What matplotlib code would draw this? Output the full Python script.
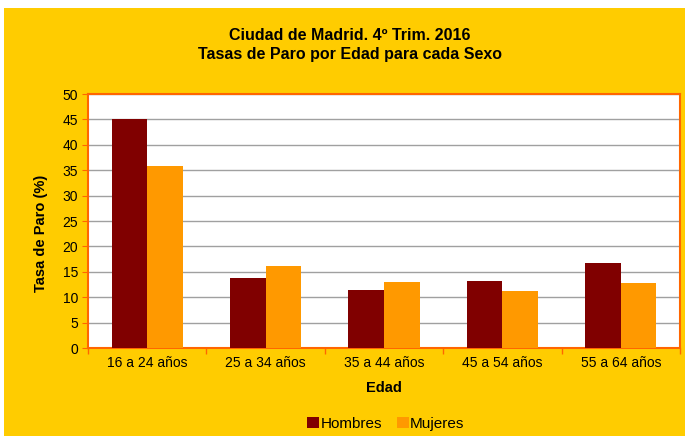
import matplotlib.pyplot as plt
import matplotlib.patches as patches
import numpy as np

plt.rcParams["font.family"] = ["Liberation Sans", "DejaVu Sans"]

# data
edades = ["16 a 24 años", "25 a 34 años", "35 a 44 años", "45 a 54 años", "55 a 64 años"]
hombres = [45.1, 13.7, 11.5, 13.2, 16.8]
mujeres = [35.9, 16.2, 13.0, 11.2, 12.7]

amarillo = "#FFCC00"
naranja = "#FF6600"

fig = plt.figure(figsize=(6.93, 4.36), dpi=100)
fig.patch.set_facecolor("white")
# yellow chart area (leaves a thin white margin like the original)
fondo = patches.Rectangle((4 / 693, 0), 681 / 693, 428 / 436,
                          transform=fig.transFigure, facecolor=amarillo,
                          edgecolor="none", zorder=-10)
fig.patches.append(fondo)

ax = fig.add_axes((88 / 693, 88 / 436, 592 / 693, 254 / 436))
ax.set_facecolor("white")

x = np.arange(len(edades))
w = 0.3
ax.bar(x - w / 2, hombres, w, color="#800000", label="Hombres", zorder=3)
ax.bar(x + w / 2, mujeres, w, color="#FF9900", label="Mujeres", zorder=3)

ax.set_xlim(-0.5, len(edades) - 0.5)
ax.set_ylim(0, 50)
ax.set_yticks(np.arange(0, 51, 5))
ax.set_xticks(x)
ax.set_xticklabels(edades, fontsize=10)
ax.set_xticks(np.arange(-0.5, len(edades)), minor=True)
ax.tick_params(axis="x", which="major", length=0, pad=6)
ax.tick_params(axis="x", which="minor", length=4, color=naranja, width=1)
ax.tick_params(axis="y", length=4, color=naranja, labelsize=10, pad=3)
ax.yaxis.grid(True, color="#A0A0A0", linewidth=1, zorder=0)

for s in ax.spines.values():
    s.set_color(naranja)
    s.set_linewidth(1.5)

ax.set_xlabel("Edad", fontsize=10.5, fontweight="bold", labelpad=8)
ax.set_ylabel("Tasa de Paro (%)", fontsize=10.5, fontweight="bold")
ax.yaxis.set_label_coords(-0.067, 0.453)

fig.text(350 / 693, 1 - 35 / 436, "Ciudad de Madrid. 4º Trim. 2016",
         ha="center", va="center", fontsize=11.5, fontweight="bold")
fig.text(350 / 693, 1 - 54 / 436, "Tasas de Paro por Edad para cada Sexo",
         ha="center", va="center", fontsize=11.5, fontweight="bold")

fig.legend(loc="center", bbox_to_anchor=(386 / 693, 1 - 424 / 436), ncol=2,
           frameon=False, fontsize=11, handlelength=0.75, handleheight=0.75,
           handletextpad=0.1, columnspacing=1.0)

fig.savefig("out.png", dpi=100, facecolor=fig.get_facecolor())
